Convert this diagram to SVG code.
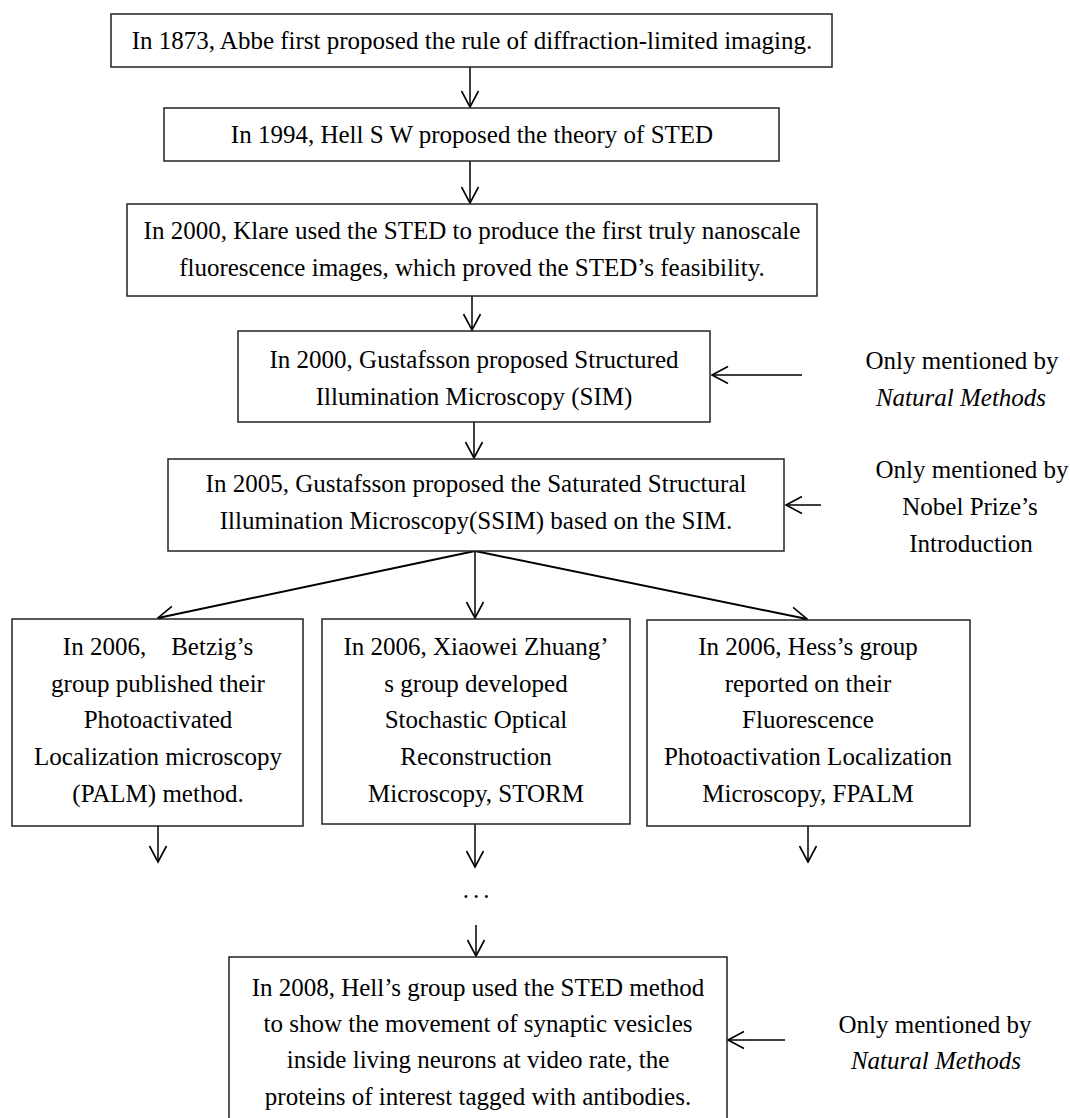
<svg xmlns="http://www.w3.org/2000/svg" width="1070" height="1118" viewBox="0 0 1070 1118">
<style>
.box{fill:#fff;stroke:#222;stroke-width:1.5}
.t{font-family:"Liberation Serif","Times New Roman",serif;font-size:25px;fill:#000;text-anchor:middle}
.i{font-style:italic}
.c{fill:none;stroke:#000;stroke-width:1.5}
.c2{fill:none;stroke:#000;stroke-width:2}
</style>
<defs>
<marker id="ah" markerUnits="userSpaceOnUse" markerWidth="20" markerHeight="22" refX="17" refY="10" orient="auto" viewBox="0 0 20 22">
<path d="M1,1.5 L17,10 L1,18.5" fill="none" stroke="#000" stroke-width="1.6"/>
</marker>
</defs>
<rect width="1070" height="1118" fill="#fff"/>
<g id="connectors">
<line class="c" x1="470" y1="67" x2="470" y2="107" marker-end="url(#ah)"/>
<line class="c" x1="470" y1="161" x2="470" y2="203" marker-end="url(#ah)"/>
<line class="c" x1="472" y1="296" x2="472" y2="330" marker-end="url(#ah)"/>
<line class="c" x1="474" y1="422" x2="474" y2="458" marker-end="url(#ah)"/>
<line class="c" x1="802" y1="375" x2="712" y2="375" marker-end="url(#ah)"/>
<line class="c" x1="821" y1="505" x2="786" y2="505" marker-end="url(#ah)"/>
<line class="c2" x1="475" y1="551" x2="158" y2="618" marker-end="url(#ah)"/>
<line class="c" x1="475" y1="551" x2="475" y2="618" marker-end="url(#ah)"/>
<line class="c2" x1="475" y1="551" x2="807" y2="619" marker-end="url(#ah)"/>
<line class="c" x1="158" y1="826" x2="158" y2="862" marker-end="url(#ah)"/>
<line class="c" x1="475" y1="824" x2="475" y2="867" marker-end="url(#ah)"/>
<line class="c" x1="808" y1="826" x2="808" y2="862" marker-end="url(#ah)"/>
<line class="c" x1="476" y1="925" x2="476" y2="956" marker-end="url(#ah)"/>
<line class="c" x1="785" y1="1040" x2="728" y2="1040" marker-end="url(#ah)"/>
</g>
<g id="n1">
<rect class="box" x="111" y="14" width="721" height="53"/>
<text class="t" x="472" y="49">In 1873, Abbe first proposed the rule of diffraction-limited imaging.</text>
</g>
<g id="n2">
<rect class="box" x="164" y="108" width="615" height="53"/>
<text class="t" x="472" y="143">In 1994, Hell S W proposed the theory of STED</text>
</g>
<g id="n3">
<rect class="box" x="127" y="204" width="690" height="92"/>
<text class="t" x="472" y="239">In 2000, Klare used the STED to produce the first truly nanoscale</text>
<text class="t" x="472" y="276">fluorescence images, which proved the STED’s feasibility.</text>
</g>
<g id="n4">
<rect class="box" x="238" y="331" width="472" height="91"/>
<text class="t" x="474" y="368">In 2000, Gustafsson proposed Structured</text>
<text class="t" x="474" y="405">Illumination Microscopy (SIM)</text>
</g>
<g id="n5">
<rect class="box" x="168" y="459" width="616" height="92"/>
<text class="t" x="476" y="492">In 2005, Gustafsson proposed the Saturated Structural</text>
<text class="t" x="476" y="529">Illumination Microscopy(SSIM) based on the SIM.</text>
</g>
<g id="n6">
<rect class="box" x="12" y="619" width="291" height="207"/>
<text class="t" x="158" y="655" xml:space="preserve">In 2006,    Betzig’s</text>
<text class="t" x="158" y="692">group published their</text>
<text class="t" x="158" y="728">Photoactivated</text>
<text class="t" x="158" y="765">Localization microscopy</text>
<text class="t" x="158" y="802">(PALM) method.</text>
</g>
<g id="n7">
<rect class="box" x="322" y="619" width="308" height="205"/>
<text class="t" x="476" y="655">In 2006, Xiaowei Zhuang’</text>
<text class="t" x="476" y="692">s group developed</text>
<text class="t" x="476" y="728">Stochastic Optical</text>
<text class="t" x="476" y="765">Reconstruction</text>
<text class="t" x="476" y="802">Microscopy, STORM</text>
</g>
<g id="n8">
<rect class="box" x="647" y="620" width="323" height="206"/>
<text class="t" x="808" y="655">In 2006, Hess’s group</text>
<text class="t" x="808" y="692">reported on their</text>
<text class="t" x="808" y="728">Fluorescence</text>
<text class="t" x="808" y="765">Photoactivation Localization</text>
<text class="t" x="808" y="802">Microscopy, FPALM</text>
</g>
<g id="dots">
<text class="t" x="478" y="898" letter-spacing="4">...</text>
</g>
<g id="n9">
<rect class="box" x="229" y="957" width="498" height="175"/>
<text class="t" x="478" y="996">In 2008, Hell’s group used the STED method</text>
<text class="t" x="478" y="1032">to show the movement of synaptic vesicles</text>
<text class="t" x="478" y="1068">inside living neurons at video rate, the</text>
<text class="t" x="478" y="1105">proteins of interest tagged with antibodies.</text>
</g>
<g id="note1">
<text class="t" x="962" y="369">Only mentioned by</text>
<text class="t i" x="961" y="406">Natural Methods</text>
</g>
<g id="note2">
<text class="t" x="972" y="478">Only mentioned by</text>
<text class="t" x="970" y="515">Nobel Prize’s</text>
<text class="t" x="971" y="552">Introduction</text>
</g>
<g id="note3">
<text class="t" x="935" y="1033">Only mentioned by</text>
<text class="t i" x="936" y="1069">Natural Methods</text>
</g>
</svg>
